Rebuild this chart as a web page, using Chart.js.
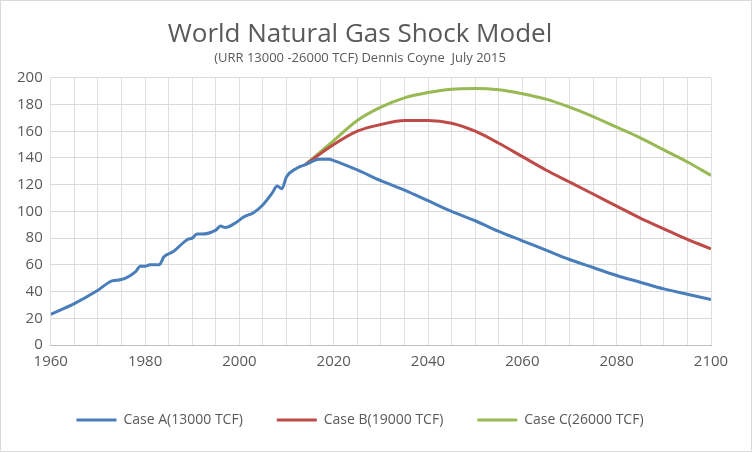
<!DOCTYPE html>
<html>
<head>
<meta charset="utf-8">
<script src="https://cdn.jsdelivr.net/npm/chart.js@4"></script>
<style>
  body { margin: 0; background: #fff; }
  #wrap { width: 750px; height: 450px; border: 1px solid #d9d9d9; }
</style>
</head>
<body>
<div id="wrap"><canvas id="gasChart" width="750" height="450"></canvas></div>
<script>
// Historique + projections (Tcf/an)
const caseA = [
    [1960, 23], [1965, 31], [1970, 41], [1973, 48], [1975, 49], [1978, 55], [1979, 59],
    [1980, 59], [1981, 60], [1983, 60], [1984, 66], [1986, 70], [1989, 79], [1990, 80],
    [1991, 83], [1992, 83], [1995, 86], [1996, 89], [1997, 88], [1999, 91], [2001, 96],
    [2003, 99], [2005, 105], [2007, 114], [2008, 119], [2009, 117], [2010, 126], [2012, 132],
    [2014, 135], [2017, 139], [2019, 139], [2020, 138], [2025, 131], [2030, 123], [2035, 116],
    [2040, 108], [2045, 100], [2050, 93], [2055, 85], [2060, 78], [2065, 71], [2070, 64],
    [2075, 58], [2080, 52], [2085, 47], [2090, 42], [2095, 38], [2100, 34]
];
const caseB = [
    [2014, 135], [2020, 150], [2025, 160], [2030, 165], [2035, 168], [2040, 168], [2045, 166],
    [2050, 160], [2055, 151], [2060, 141], [2065, 131], [2070, 122], [2075, 113], [2080, 104],
    [2085, 95], [2090, 87], [2095, 79], [2100, 72]
];
const caseC = [
    [2014, 135], [2020, 153], [2025, 168], [2030, 178], [2035, 185], [2040, 189], [2045, 191.5],
    [2050, 192], [2055, 191], [2060, 188], [2065, 184], [2070, 178], [2075, 171], [2080, 163],
    [2085, 155], [2090, 146], [2095, 137], [2100, 127]
];

const toPoints = arr => arr.map(p => ({ x: p[0], y: p[1] }));

function makeSet(label, data, color) {
    return {
        label: label,
        data: toPoints(data),
        borderColor: color,
        backgroundColor: color,
        borderWidth: 3,
        pointRadius: 0,
        cubicInterpolationMode: 'monotone',
        fill: false
    };
}

const ctx = document.getElementById('gasChart').getContext('2d');
new Chart(ctx, {
    type: 'line',
    data: {
        datasets: [
            makeSet('Case A(13000 TCF)', caseA, '#4a7ebb'),
            makeSet('Case B(19000 TCF)', caseB, '#be4b48'),
            makeSet('Case C(26000 TCF)', caseC, '#98b954')
        ]
    },
    options: {
        responsive: false,
        animation: false,
        layout: { padding: { left: 8, right: 40, top: 8, bottom: 14 } },
        plugins: {
            title: {
                display: true,
                text: 'World Natural Gas Shock Model',
                color: '#595959',
                font: { family: 'Open Sans', size: 26, weight: 'normal' },
                padding: { top: 10, bottom: 0 }
            },
            subtitle: {
                display: true,
                text: '(URR 13000 -26000 TCF) Dennis Coyne  July 2015',
                color: '#595959',
                font: { family: 'Open Sans', size: 13 },
                padding: { top: 0, bottom: 12 }
            },
            legend: {
                position: 'bottom',
                labels: {
                    color: '#595959',
                    font: { family: 'Open Sans', size: 14 },
                    boxWidth: 40,
                    boxHeight: 0,
                    padding: 34
                }
            }
        },
        scales: {
            x: {
                type: 'linear',
                min: 1960,
                max: 2100,
                ticks: {
                    stepSize: 5,
                    autoSkip: false,
                    maxRotation: 0,
                    minRotation: 0,
                    padding: 8,
                    color: '#595959',
                    font: { family: 'Open Sans', size: 15 },
                    callback: v => (v % 20 === 0 ? v : '')
                },
                grid: { color: '#e0e0e0', drawTicks: false },
                border: { color: '#bfbfbf' }
            },
            y: {
                min: 0,
                max: 200,
                ticks: {
                    stepSize: 20,
                    color: '#595959',
                    font: { family: 'Open Sans', size: 15 },
                    padding: 8
                },
                grid: { color: '#d9d9d9', drawTicks: false },
                border: { display: false }
            }
        }
    }
});
</script>
</body>
</html>
